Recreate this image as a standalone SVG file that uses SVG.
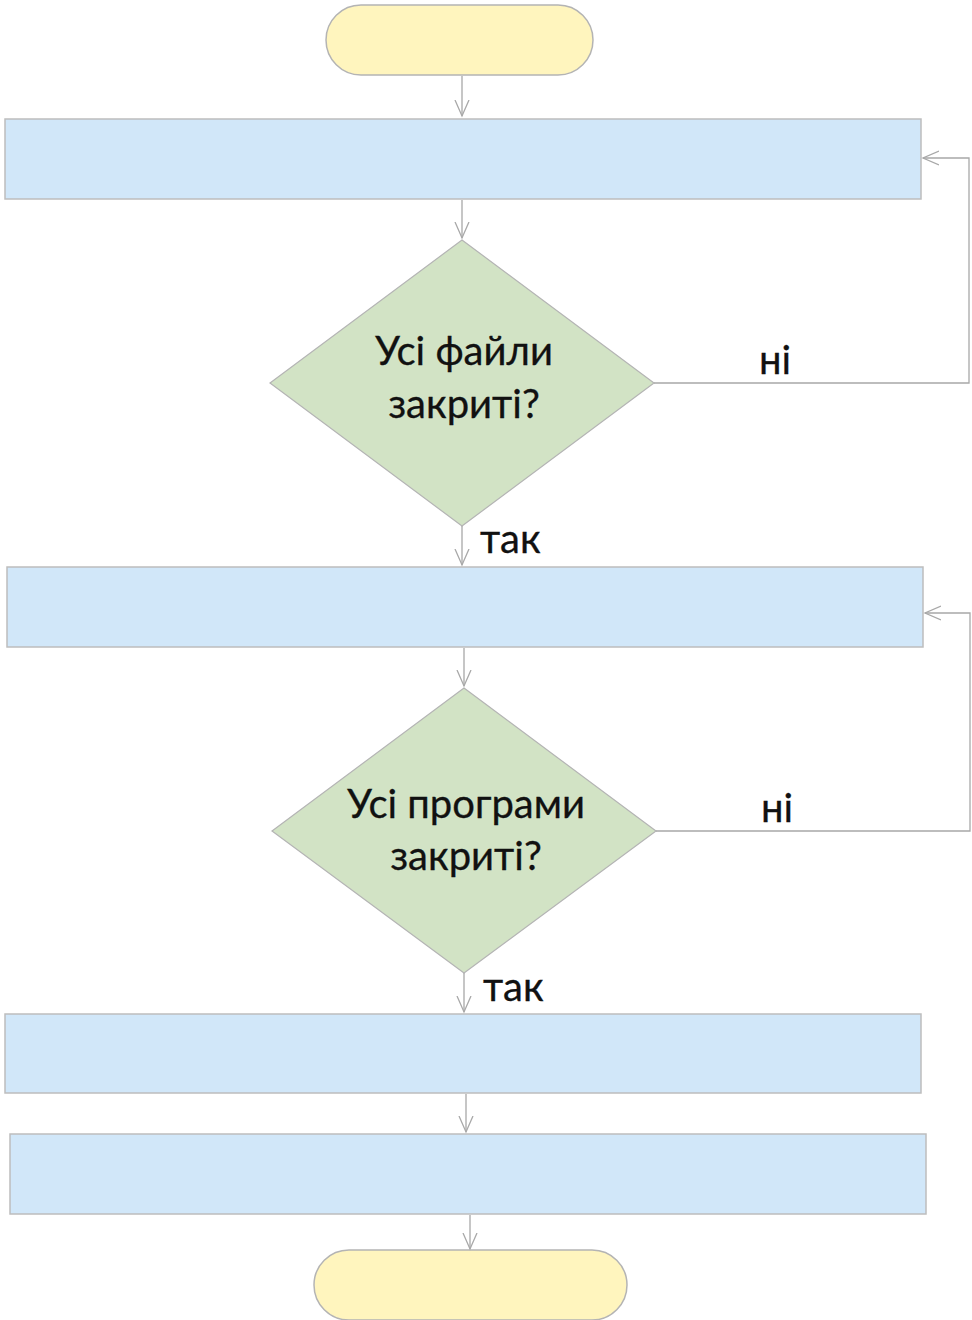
<svg xmlns="http://www.w3.org/2000/svg" width="972" height="1320" viewBox="0 0 972 1320">
  <style>
    .term { fill: #fff5be; stroke: #b4b4b4; stroke-width: 1.5; }
    .proc { fill: #d1e7f9; stroke: #bdbdbd; stroke-width: 1.5; }
    .dec { fill: #d2e3c5; stroke: #b4b4b4; stroke-width: 1.2; }
    .conn { fill: none; stroke: #a8a8a8; stroke-width: 1.3; }
    .lbl { font-family: Lato, "Noto Sans", "Liberation Sans", sans-serif; font-size: 40px; fill: #111; stroke: #111; stroke-width: 0.3; }
    .ctr { text-anchor: middle; }
  </style>
  <defs>
    <marker id="arrow" markerWidth="20" markerHeight="20" refX="16" refY="8" orient="auto" markerUnits="userSpaceOnUse">
      <path d="M0,1 L16,8 L0,15" fill="none" stroke="#a8a8a8" stroke-width="1.3"/>
    </marker>
  </defs>

  <g id="start"><rect class="term" x="326" y="5" width="267" height="70" rx="35" ry="35"/></g>
  <g id="step1"><rect class="proc" x="5" y="119" width="916" height="80"/></g>
  <g id="check-files">
    <polygon class="dec" points="462,240 654,383 462,526 270,383"/>
    <text class="lbl ctr" x="464" y="365">Усі файли</text>
    <text class="lbl ctr" x="464" y="418">закриті?</text>
  </g>
  <g id="step2"><rect class="proc" x="7" y="567" width="916" height="80"/></g>
  <g id="check-programs">
    <polygon class="dec" points="464,688 656,831 464,973 272,831"/>
    <text class="lbl ctr" x="466" y="818">Усі програми</text>
    <text class="lbl ctr" x="466" y="870">закриті?</text>
  </g>
  <g id="step3"><rect class="proc" x="5" y="1014" width="916" height="79"/></g>
  <g id="step4"><rect class="proc" x="10" y="1134" width="916" height="80"/></g>
  <g id="end"><rect class="term" x="314" y="1250" width="313" height="70" rx="35" ry="35"/></g>

  <g id="connectors">
    <path class="conn" d="M462,76 L462,116" marker-end="url(#arrow)"/>
    <path class="conn" d="M462,200 L462,238" marker-end="url(#arrow)"/>
    <path class="conn" d="M654,383 L969,383 L969,158 L923,158" marker-end="url(#arrow)"/>
    <path class="conn" d="M462,526 L462,565" marker-end="url(#arrow)"/>
    <path class="conn" d="M464,648 L464,686" marker-end="url(#arrow)"/>
    <path class="conn" d="M656,831 L970,831 L970,613 L925,613" marker-end="url(#arrow)"/>
    <path class="conn" d="M464,973 L464,1012" marker-end="url(#arrow)"/>
    <path class="conn" d="M466,1094 L466,1132" marker-end="url(#arrow)"/>
    <path class="conn" d="M470,1215 L470,1249" marker-end="url(#arrow)"/>
    <text class="lbl" x="759" y="374">ні</text>
    <text class="lbl" x="480" y="553">так</text>
    <text class="lbl" x="761" y="822">ні</text>
    <text class="lbl" x="483" y="1001">так</text>
  </g>
</svg>
